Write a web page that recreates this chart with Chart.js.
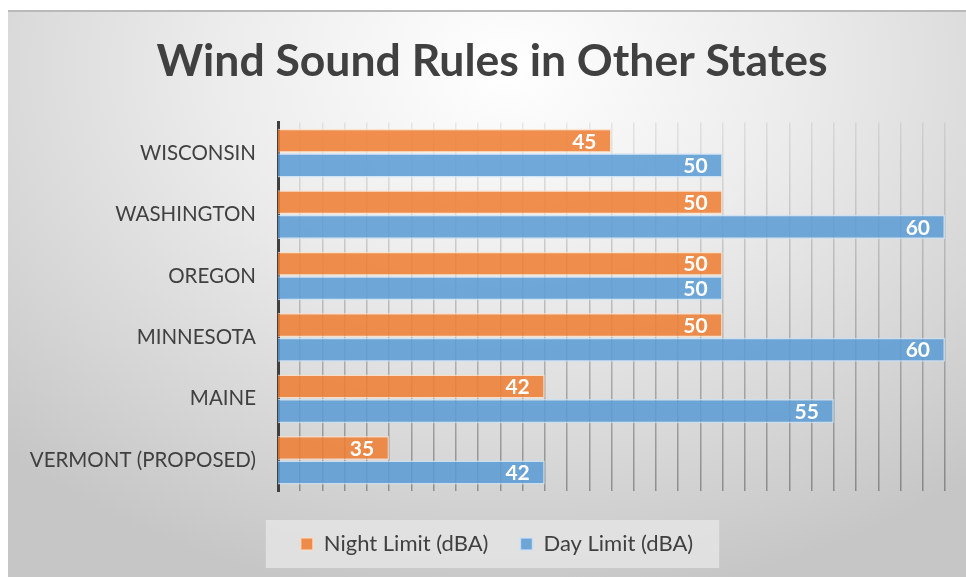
<!DOCTYPE html>
<html>
<head>
<meta charset="utf-8">
<script src="https://cdn.jsdelivr.net/npm/chart.js"></script>
<style>
  html, body { margin: 0; padding: 0; background: #fff; }
  #frame {
    position: absolute; left: 8px; top: 10px; width: 958px; height: 565px;
    border-top: 2px solid #b9b9b9;
    background: radial-gradient(ellipse 75% 95% at 52% 10%, #ffffff 0%, #ececec 40%, #d6d6d6 75%, #c6c6c6 100%);
  }
  canvas { display: block; }
</style>
</head>
<body>
<div id="frame"><canvas id="soundChart"></canvas></div>
<script>
const states = ["WISCONSIN", "WASHINGTON", "OREGON", "MINNESOTA", "MAINE", "VERMONT (PROPOSED)"];
const nightLimit = [45, 50, 50, 50, 42, 35];
const dayLimit = [50, 60, 50, 60, 55, 42];
const axisMin = 30;
const axisMax = 60;

const FONT = "Lato, 'Open Sans', sans-serif";
const TEXT = "#404040";

// white numbers inside the end of each bar
const valueLabels = {
  id: "valueLabels",
  afterDatasetsDraw(chart) {
    const ctx = chart.ctx;
    ctx.save();
    ctx.font = "bold 21px " + FONT;
    ctx.fillStyle = "#ffffff";
    ctx.textAlign = "right";
    ctx.textBaseline = "middle";
    chart.data.datasets.forEach((ds, i) => {
      chart.getDatasetMeta(i).data.forEach((bar, j) => {
        ctx.fillText(ds.data[j], bar.x - 15, bar.y + 1);
      });
    });
    ctx.restore();
  }
};

// nudge title and legend a little right of the canvas centre, like the original
const nudge = {
  id: "nudge",
  afterLayout(chart) {
    const shift = (box, dx) => {
      if (!box) return;
      box.left += dx;
      box.right += dx;
      (box.legendHitBoxes || []).forEach(b => { b.left += dx; });
    };
    shift(chart.titleBlock, 11.5);
    shift(chart.legend, 16.5);
  }
};

// grey box behind the legend
const legendBox = {
  id: "legendBox",
  beforeDraw(chart) {
    const boxes = chart.legend && chart.legend.legendHitBoxes;
    if (!boxes || !boxes.length) return;
    let x0 = Infinity, x1 = -Infinity, y0 = Infinity, y1 = -Infinity;
    boxes.forEach(b => {
      x0 = Math.min(x0, b.left); x1 = Math.max(x1, b.left + b.width);
      y0 = Math.min(y0, b.top); y1 = Math.max(y1, b.top + b.height);
    });
    const ctx = chart.ctx;
    ctx.save();
    ctx.fillStyle = "rgba(228,228,228,0.85)";
    ctx.fillRect(x0 - 35, y0 - 13, (x1 - x0) + 61, (y1 - y0) + 26);
    ctx.restore();
  }
};

const ctx = document.getElementById("soundChart").getContext("2d");
const soundChart = new Chart(ctx, {
  type: "bar",
  data: {
    labels: states,
    datasets: [
      {
        label: "Night Limit (dBA)",
        data: nightLimit,
        backgroundColor: "rgba(237,125,49,0.86)",
        borderColor: "rgba(255,220,195,0.7)",
        borderWidth: 1.5
      },
      {
        label: "Day Limit (dBA)",
        data: dayLimit,
        backgroundColor: "rgba(91,155,213,0.86)",
        borderColor: "rgba(200,225,245,0.8)",
        borderWidth: 1.5
      }
    ]
  },
  options: {
    indexAxis: "y",
    responsive: true,
    maintainAspectRatio: false,
    animation: false,
    categoryPercentage: 0.8,
    barPercentage: 0.98,
    layout: { padding: { left: 8, right: 21, top: 0, bottom: 12 } },
    scales: {
      x: {
        min: axisMin,
        max: axisMax,
        afterFit(scale) { scale.height += 10; },
        ticks: { display: false, stepSize: 1 },
        border: { display: false },
        grid: {
          drawTicks: false,
          lineWidth: 1.5,
          color(context) {
            const area = context.chart.chartArea;
            if (!area) return "rgba(0,0,0,0.2)";
            const g = context.chart.ctx.createLinearGradient(0, area.top, 0, area.bottom);
            g.addColorStop(0, "rgba(0,0,0,0.07)");
            g.addColorStop(1, "rgba(0,0,0,0.32)");
            return g;
          }
        }
      },
      y: {
        afterFit(scale) { scale.width = 262; },
        border: { display: true, color: "#404040", width: 3 },
        grid: { display: false, drawTicks: false },
        ticks: {
          padding: 22,
          color: TEXT,
          font: { family: FONT, size: 20.5 }
        }
      }
    },
    plugins: {
      title: {
        display: true,
        text: "Wind Sound Rules in Other States",
        color: TEXT,
        font: { family: FONT, size: 44.5, weight: "bold" },
        padding: { top: 23, bottom: 34 }
      },
      legend: {
        position: "bottom",
        labels: {
          color: TEXT,
          font: { family: FONT, size: 22 },
          boxWidth: 12,
          boxHeight: 12,
          padding: 32
        }
      },
      tooltip: { enabled: false }
    }
  },
  plugins: [valueLabels, nudge, legendBox]
});
</script>
</body>
</html>
